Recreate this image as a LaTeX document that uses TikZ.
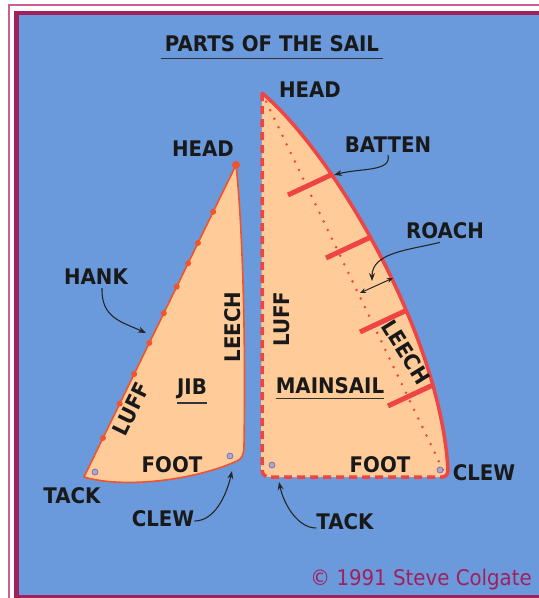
\documentclass[tikz,border=0pt]{standalone}
\usepackage{fontspec}
\setmainfont{DejaVu Sans}[FakeStretch=0.92]
\usetikzlibrary{positioning, calc, arrows.meta}

\definecolor{seablue}{RGB}{106,154,219}
\definecolor{sailfill}{RGB}{255,204,153}
\definecolor{mainred}{RGB}{238,68,68}
\definecolor{jibred}{RGB}{240,84,44}
\definecolor{framepurple}{RGB}{160,32,92}
\definecolor{framepink}{RGB}{204,96,146}
\definecolor{ringpurple}{RGB}{140,100,190}

\begin{document}
\begin{tikzpicture}[
        x=1pt, y=-1pt,
        partname/.style={
          inner sep=0pt, text=black!90, font=\fontsize{21.5}{25}\selectfont\bfseries
        },
        callout/.style={
          ->, line width=1.1pt, draw=black!85
        },
        hank/.style={fill=jibred},
        ring/.style={draw=ringpurple, line width=0.8pt, fill=seablue!60!sailfill},
        batten/.style={draw=mainred, line width=5pt},
        >={Stealth[length=8pt, width=6pt]},
      ]
        % page and frame
        \useasboundingbox (0,0) rectangle (539,598);
        \clip (0,0) rectangle (539,598);
        \fill[white] (0,0) rectangle (539,598);
        \draw[framepink, line width=1.8pt] (9,5) rectangle (600,650);
        \fill[framepurple] (14,11) rectangle (600,598);
        \fill[seablue] (19,15) rectangle (600,594.5);

        % corners
        \coordinate (jib_head) at (236,165);
        \coordinate (jib_tack) at (84,477);
        \coordinate (main_head) at (262,93);
        \coordinate (main_clew) at (444,472);

        % Jib
        \draw[jibred, line width=1.6pt, fill=sailfill, line join=round]
          (jib_tack) -- (jib_head)
          .. controls (242,220) and (246,330) .. (244,446)
          .. controls (244,454) and (242,459) .. (237,461)
          .. controls (190,482) and (120,488) .. (jib_tack) -- cycle;
        \foreach \t in {0.125,0.235,0.33,0.43,0.525,0.61,0.685,0.75,0.85}
          \fill[hank] ($(jib_tack)!\t!(jib_head)$) circle (3pt);
        \fill[hank] (jib_head) circle (4pt);
        \draw[ring] (95,472) circle (3pt);
        \draw[ring] (230,456) circle (3pt);

        % Mainsail
        \fill[sailfill] (main_head) -- (261,468)
          .. controls (261,474) and (264,477) .. (270,477) -- (443,477)
          .. controls (447,477) and (448,474) .. (448,470)
          .. controls (440,330) and (330,150) .. (main_head) -- cycle;
        \draw[mainred, line width=3.5pt, dash pattern=on 8pt off 5pt]
          (main_head) -- (262,468)
          .. controls (262,474) and (264,477) .. (270,477) -- (443,477);
        \draw[mainred, line width=3.5pt]
          (main_head) .. controls (330,150) and (440,330) .. (448,470)
          .. controls (448,474) and (446,477) .. (442,477);
        \draw[mainred, line width=2.8pt, line cap=round, dash pattern=on 0pt off 9.5pt]
          (main_head) -- (main_clew);
        \foreach \a/\b in {288/195, 326/258, 360/332, 388/406}
          \draw[batten] (\a,\b) -- ++(45,-21);
        \draw[ring] (272,465) circle (3pt);
        \draw[ring] (440,470) circle (3pt);

        % Title
        \node [partname] (title) at (272,44) {PARTS OF THE SAIL};
        \draw[line width=1.6pt, black!80] ([xshift=-4pt,yshift=-6pt]title.south west) -- ([xshift=4pt,yshift=-6pt]title.south east);

        % Labels Jib
        \node [partname] (jib_head_lbl) at (203,149) {HEAD};
        \node [partname] (hank_lbl) at (96,277) {HANK};
        \node [partname, rotate=64] (jib_luff_lbl) at (131,409) {LUFF};
        \node [partname] (jib_lbl) at (192,389) {JIB};
        \draw[line width=1.4pt, black!80] ([yshift=-4pt]jib_lbl.south west) -- ([yshift=-4pt]jib_lbl.south east);
        \node [partname, rotate=90] (jib_leech_lbl) at (233,327) {LEECH};
        \node [partname] (jib_foot_lbl) at (172,465) {FOOT};
        \node [partname] (jib_tack_lbl) at (72,496) {TACK};
        \node [partname] (jib_clew_lbl) at (163,519) {CLEW};

        % Labels Mainsail
        \node [partname] (main_head_lbl) at (310,90) {HEAD};
        \node [partname] (batten_lbl) at (388,145) {BATTEN};
        \node [partname] (roach_lbl) at (445,231) {ROACH};
        \node [partname, rotate=90] (main_luff_lbl) at (282,319) {LUFF};
        \node [partname, rotate=-58] (main_leech_lbl) at (406,352) {LEECH};
        \node [partname] (main_lbl) at (330,386) {MAINSAIL};
        \draw[line width=1.4pt, black!80] ([yshift=-4pt]main_lbl.south west) -- ([yshift=-4pt]main_lbl.south east);
        \node [partname] (main_foot_lbl) at (380,465) {FOOT};
        \node [partname] (main_clew_lbl) at (484,473) {CLEW};
        \node [partname] (main_tack_lbl) at (345,522) {TACK};
        \node [partname, font=\fontsize{21.5}{25}\selectfont, text=framepurple, anchor=base east] (credit) at (532,585) {© 1991 Steve Colgate};

        % Pointers
        \coordinate (hank_tip) at (146,333);
        \coordinate (jib_clew_tip) at (232,471);
        \coordinate (main_tack_tip) at (279,482);
        \coordinate (batten_tip) at (334,175);
        \coordinate (roach_tip) at (372,281);
        \coordinate (roach_in) at (360,293);
        \coordinate (roach_out) at (393,278);
        \draw [callout] ([xshift=6pt,yshift=-3pt]hank_lbl.south) .. controls (101,318) and (122,322) .. (hank_tip);
        \draw [callout] ([yshift=-2pt]jib_clew_lbl.east) .. controls (214,521) and (226,497) .. (jib_clew_tip);
        \draw [callout] ([yshift=-6pt]main_tack_lbl.west) .. controls (298,528) and (284,505) .. (main_tack_tip);
        \draw [callout] ([yshift=-2pt]batten_lbl.south) .. controls (392,172) and (360,168) .. (batten_tip);
        \draw [callout] ([xshift=-5pt,yshift=-3pt]roach_lbl.south) .. controls (410,250) and (372,252) .. (roach_tip);
        \draw [line width=1pt, black!85, {Stealth[length=6pt,width=5pt]}-{Stealth[length=6pt,width=5pt]}] (roach_in) -- (roach_out);

      \end{tikzpicture}
\end{document}
